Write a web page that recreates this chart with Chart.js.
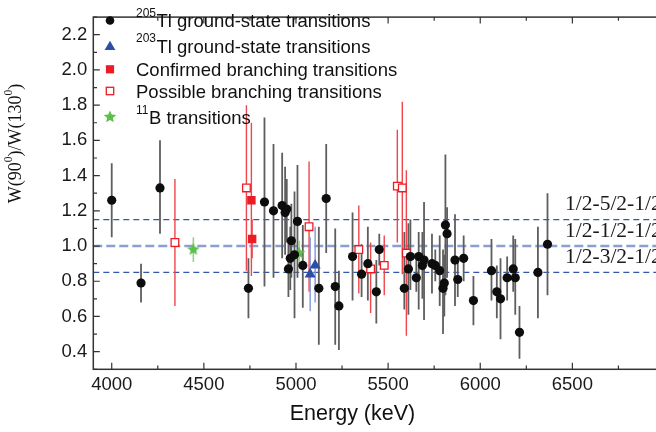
<!DOCTYPE html>
<html><head><meta charset="utf-8">
<script src="https://cdn.jsdelivr.net/npm/chart.js@4.4.1/dist/chart.umd.min.js"></script>
<style>html,body{margin:0;padding:0;overflow:hidden;background:#fff}</style>
</head><body>
<canvas id="c" width="680" height="432" style="display:block;width:680px;height:432px"></canvas>
<script>
// ---------- data ----------
// 205Tl ground-state transitions
const tl205Energy = [4000,4159,4262,4742,4829,4878,4925,4941,4950,4959,4969,4975,4992,5008,5037,5124,5164,5213,5233,5307,5356,5390,5436,5452,5588,5610,5621,5653,5666,5686,5695,5738,5756,5780,5798,5805,5811,5820,5863,5878,5910,5963,6061,6090,6110,6146,6179,6190,6213,6313,6365];
const tl205W      = [1.26,0.79,1.33,0.76,1.25,1.20,1.23,1.19,1.21,0.87,0.93,1.03,0.95,1.14,0.89,0.76,1.27,0.77,0.66,0.94,0.84,0.90,0.74,0.98,0.76,0.87,0.94,0.82,0.94,0.89,0.92,0.90,0.89,0.86,0.76,0.79,1.12,1.07,0.92,0.81,0.93,0.69,0.86,0.74,0.70,0.82,0.87,0.82,0.51,0.85,1.01];
const tl205Low    = [1.05,0.68,1.07,0.59,0.77,0.82,0.93,0.95,1.02,0.71,0.75,0.82,0.59,0.82,0.65,0.44,0.96,0.44,0.41,0.69,0.71,0.69,0.56,0.89,0.64,0.61,0.75,0.74,0.64,0.70,0.58,0.73,0.80,0.66,0.50,0.60,0.72,0.82,0.66,0.71,0.80,0.55,0.69,0.59,0.47,0.69,0.74,0.61,0.36,0.59,0.72];
const tl205High   = [1.47,0.90,1.60,0.93,1.73,1.58,1.53,1.45,1.38,1.03,1.11,1.24,1.31,1.46,1.12,1.11,1.58,1.10,0.86,1.19,1.01,1.11,0.92,1.07,1.08,1.13,1.15,0.92,1.08,1.08,1.25,1.07,0.98,1.06,0.98,0.95,1.52,1.22,1.18,0.92,1.06,0.83,1.04,0.89,0.93,0.94,1.06,1.04,0.66,1.11,1.30];
// 203Tl ground-state transitions
const tl203Energy = [5077,5104];
const tl203W      = [0.84,0.89];
const tl203Low    = [0.63,0.68];
const tl203High   = [1.05,1.11];
// Confirmed branching transitions
const confEnergy = [4758,4762];
const confW      = [1.26,1.04];
const confLow    = [0.83,0.93];
const confHigh   = [1.70,1.15];
// Possible branching transitions
const possEnergy = [4343,4731,5071,5341,5405,5479,5550,5577,5599];
const possW      = [1.02,1.33,1.11,0.98,0.87,0.89,1.34,1.33,0.96];
const possLow    = [0.66,0.86,0.74,0.73,0.62,0.72,1.02,0.84,0.49];
const possHigh   = [1.38,1.80,1.48,1.23,1.02,1.06,1.66,1.82,1.43];
// 11B transitions
const b11Energy = [4443,5017];
const b11W      = [0.98,0.96];
const b11Low    = [0.91,0.90];
const b11High   = [1.05,1.03];
// reference levels and labels
const refLevels = [1.15,1.0,0.85];
const refLabels = ['1/2-5/2-1/2','1/2-1/2-1/2','1/2-3/2-1/2'];
// tick labels
const xTickLabels = [4000,4500,5000,5500,6000,6500];
const yTickLabels = [0.4,0.6,0.8,1.0,1.2,1.4,1.6,1.8,2.0,2.2];
// legend
const legendSup  = ['205','203','','','11'];
const legendText = ['Tl ground-state transitions','Tl ground-state transitions','Confirmed branching transitions','Possible branching transitions','B transitions'];

// ---------- styles ----------
const SANS = '"Liberation Sans", Arial, sans-serif';
const SERIF = '"Liberation Serif", "Times New Roman", serif';
const RED = '#ec1c24', BLUE = '#2b4fa6', GREEN = '#5cbf4a', BLACK = '#0d0d0d';

function starCanvas(r, color){
  const s = Math.ceil(r*2+2), c = document.createElement('canvas');
  c.width = s; c.height = s;
  const g = c.getContext('2d');
  g.fillStyle = color; g.beginPath();
  for (let i=0;i<10;i++){
    const rad = i%2 ? r*0.45 : r, a = -Math.PI/2 + i*Math.PI/5;
    g.lineTo(s/2 + rad*Math.cos(a), s/2 + rad*Math.sin(a));
  }
  g.closePath(); g.fill();
  return c;
}
const STAR = starCanvas(6.6, GREEN);

const pts = (E,W) => E.map((e,i)=>({x:e,y:W[i]}));

const groups = [
  {E:tl205Energy, lo:tl205Low, hi:tl205High, color:'#5e5e5e', w:1.8},
  {E:possEnergy, lo:possLow, hi:possHigh, color:'#f0464c', w:1.4},
  {E:confEnergy, lo:confLow, hi:confHigh, color:'#f0464c', w:1.4},
  {E:tl203Energy, lo:tl203Low, hi:tl203High, color:'#7f97d8', w:1.4},
  {E:b11Energy, lo:b11Low, hi:b11High, color:'#93d67f', w:1.6}
];

function drawMarker(ctx, kind, x, y){
  ctx.save();
  if (kind===0){ ctx.fillStyle=BLACK; ctx.beginPath(); ctx.arc(x,y,4.3,0,Math.PI*2); ctx.fill(); }
  else if (kind===1){ ctx.fillStyle=BLUE; ctx.beginPath(); const r=6.2; const cy=y+1;
    ctx.moveTo(x, cy-r); ctx.lineTo(x+r*Math.sin(2*Math.PI/3), cy-r*Math.cos(2*Math.PI/3)); ctx.lineTo(x+r*Math.sin(4*Math.PI/3), cy-r*Math.cos(4*Math.PI/3)); ctx.closePath(); ctx.fill(); }
  else if (kind===2){ ctx.fillStyle=RED; ctx.fillRect(x-4.1,y-4.1,8.2,8.2); }
  else if (kind===3){ ctx.fillStyle='#fff'; ctx.strokeStyle=RED; ctx.lineWidth=1.3; ctx.fillRect(x-3.7,y-3.7,7.4,7.4); ctx.strokeRect(x-3.7,y-3.7,7.4,7.4); }
  else { ctx.drawImage(STAR, x-STAR.width/2, y-STAR.height/2); }
  ctx.restore();
}

const overlay = {
  id:'overlay',
  beforeDatasetsDraw(chart){
    const {ctx, chartArea:a, scales:{x,y}} = chart;
    ctx.save();
    ctx.beginPath(); ctx.rect(a.left,a.top,a.right-a.left,a.bottom-a.top); ctx.clip();
    refLevels.forEach((v,i)=>{
      const py = y.getPixelForValue(v);
      ctx.beginPath();
      if (i===1){ ctx.strokeStyle='#8c9fd4'; ctx.lineWidth=2.6; ctx.setLineDash([9,4]); }
      else { ctx.strokeStyle='#3456ac'; ctx.lineWidth=1.3; ctx.setLineDash([6,4]); }
      ctx.moveTo(a.left, py); ctx.lineTo(a.right, py); ctx.stroke();
    });
    ctx.setLineDash([]);
    groups.forEach(g=>{
      ctx.strokeStyle=g.color; ctx.lineWidth=g.w;
      g.E.forEach((e,i)=>{
        const px = x.getPixelForValue(e);
        ctx.beginPath();
        ctx.moveTo(px, y.getPixelForValue(g.lo[i]));
        ctx.lineTo(px, y.getPixelForValue(g.hi[i]));
        ctx.stroke();
      });
    });
    ctx.restore();
  },
  afterDraw(chart){
    const {ctx, chartArea:a, scales:{x,y}} = chart;
    ctx.save();
    // frame
    ctx.strokeStyle='#333'; ctx.lineWidth=1.5;
    ctx.strokeRect(a.left, a.top, a.right-a.left, a.bottom-a.top);
    // inward ticks
    ctx.lineWidth=1.2;
    for (let v=4000; v<=7000; v+=250){
      const px = x.getPixelForValue(v), len = v%500===0 ? 6.5 : 3.7;
      ctx.beginPath(); ctx.moveTo(px,a.bottom); ctx.lineTo(px,a.bottom-len);
      ctx.moveTo(px,a.top); ctx.lineTo(px,a.top+len); ctx.stroke();
    }
    for (let k=3; k<=23; k++){
      const py = y.getPixelForValue(k/10), len = k%2===0 ? 6.5 : 3.7;
      ctx.beginPath(); ctx.moveTo(a.left,py); ctx.lineTo(a.left+len,py);
      ctx.moveTo(a.right,py); ctx.lineTo(a.right-len,py); ctx.stroke();
    }
    // reference level labels
    ctx.fillStyle='#1a1a1a'; ctx.font='21.5px '+SERIF; ctx.textBaseline='middle'; ctx.textAlign='left';
    refLevels.forEach((v,i)=>{
      ctx.fillText(refLabels[i], x.getPixelForValue(6460), y.getPixelForValue(v)-15);
    });
    // legend
    const rows = [27.3, 52.7, 76, 97.6, 124];
    const mids = [20.5, 46, 69.3, 91, 117];
    rows.forEach((by,i)=>{
      drawMarker(ctx, i, 110, mids[i]);
      let tx = 136;
      ctx.fillStyle='#111'; ctx.textBaseline='alphabetic';
      if (legendSup[i]){
        ctx.font='12px '+SANS; ctx.fillText(legendSup[i], tx, by-10.5);
        tx += ctx.measureText(legendSup[i]).width + 0.5;
      }
      ctx.font='18.5px '+SANS; ctx.fillText(legendText[i], tx, by);
    });
    // x title
    ctx.font='21.5px '+SANS; ctx.textAlign='center'; ctx.textBaseline='middle'; ctx.fillStyle='#111';
    ctx.fillText('Energy (keV)', 352.5, 414);
    // y title (rotated, with superscripts)
    const segs = [['W(90',0],['0',1],[')/W(130',0],['0',1],[')',0]];
    const fBig = '18px '+SERIF, fSup = '11.5px '+SERIF;
    let total = 0;
    segs.forEach(s=>{ ctx.font = s[1]?fSup:fBig; total += ctx.measureText(s[0]).width; });
    ctx.translate(20.7, 143.5); ctx.rotate(-Math.PI/2);
    ctx.textAlign='left'; ctx.textBaseline='alphabetic';
    let cx = -total/2;
    segs.forEach(s=>{
      ctx.font = s[1]?fSup:fBig;
      ctx.fillText(s[0], cx, s[1] ? -8.5 : 0);
      cx += ctx.measureText(s[0]).width;
    });
    ctx.restore();
  }
};

new Chart(document.getElementById('c').getContext('2d'), {
  type:'scatter',
  data:{datasets:[
    {label:'205Tl ground-state transitions', data:pts(tl205Energy,tl205W), pointStyle:'circle', pointRadius:4.6, backgroundColor:BLACK, borderColor:BLACK, borderWidth:0},
    {label:'203Tl ground-state transitions', data:pts(tl203Energy,tl203W), pointStyle:'triangle', pointRadius:6.4, backgroundColor:BLUE, borderColor:BLUE, borderWidth:0},
    {label:'Confirmed branching transitions', data:pts(confEnergy,confW), pointStyle:'rect', pointRadius:6.0, backgroundColor:RED, borderColor:RED, borderWidth:0},
    {label:'Possible branching transitions', data:pts(possEnergy,possW), pointStyle:'rect', pointRadius:5.4, backgroundColor:'#fff', borderColor:RED, borderWidth:1.3},
    {label:'11B transitions', data:pts(b11Energy,b11W), pointStyle:STAR, pointRadius:6.6}
  ]},
  options:{
    responsive:false, animation:false, devicePixelRatio:1,
    layout:{padding:{top:3.3, right:15.5, left:0, bottom:0}},
    plugins:{legend:{display:false}, tooltip:{enabled:false}},
    scales:{
      x:{type:'linear', min:3900, max:7000,
        afterBuildTicks:s=>{ s.ticks = xTickLabels.map(v=>({value:v})); },
        afterFit:s=>{ s.height = 62.7; },
        grid:{display:false, drawTicks:false}, border:{display:false},
        ticks:{font:{family:SANS, size:18.5}, color:'#1a1a1a', padding:5, maxRotation:0, autoSkip:false, callback:v=>String(v)}},
      y:{type:'linear', min:0.3, max:2.3,
        afterBuildTicks:s=>{ s.ticks = yTickLabels.map(v=>({value:v})); },
        afterFit:s=>{ s.width = 93.3; },
        grid:{display:false, drawTicks:false}, border:{display:false},
        ticks:{font:{family:SANS, size:18.5}, color:'#1a1a1a', padding:6, autoSkip:false, callback:v=>Number(v).toFixed(1)}}
    }
  },
  plugins:[overlay]
});
</script>
</body></html>
